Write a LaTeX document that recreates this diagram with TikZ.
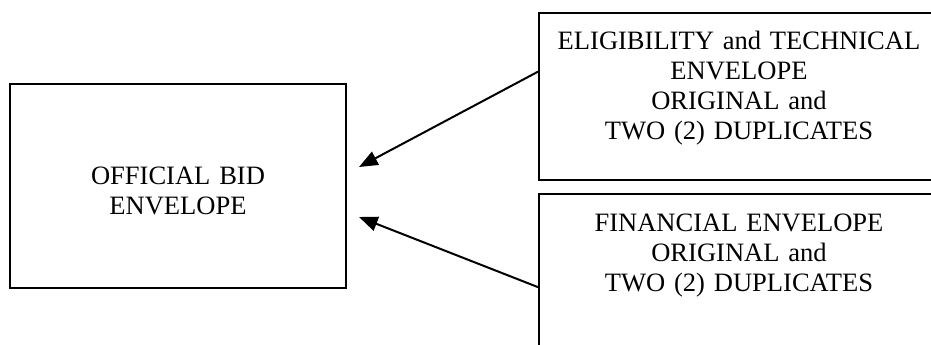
\documentclass[tikz,border=0pt]{standalone}
\usepackage{fontspec}
\setmainfont{Liberation Serif}
\usetikzlibrary{arrows.meta,calc}
\begin{document}
\begin{tikzpicture}[x=0.75pt,y=-0.75pt,
  envbox/.style={draw, line width=1.5pt, anchor=north west, inner xsep=0pt, inner ysep=0pt,
    align=center, font=\fontsize{19.9pt}{22.5pt}\selectfont},
  arr/.style={line width=1.5pt, -{Triangle[length=14pt,width=11pt]}}]
\useasboundingbox (0,0) rectangle (931,344);
\clip (0,0) rectangle (931,344);
\node[envbox, text width=252pt, text height=75pt, text depth=78pt] (bid) at (9,83)
  {OFFICIAL BID\\ENVELOPE};
\node[envbox, text width=300pt, text height=27pt, text depth=98.25pt] (tech) at (538,12)
  {ELIGIBILITY and TECHNICAL\\ENVELOPE\\ORIGINAL and\\TWO (2) DUPLICATES};
\node[envbox, text width=300pt, text height=27.75pt, text depth=97.5pt] (fin) at (538,193)
  {FINANCIAL ENVELOPE\\ORIGINAL and\\TWO (2) DUPLICATES};
\coordinate (t1) at ($(bid.east)+(9pt,14.25pt)$);
\coordinate (t2) at ($(bid.east)+(9pt,-23.25pt)$);
\draw[arr] ($(tech.north west)!0.353!(tech.south west)$) -- (t1);
\draw[arr] ($(fin.north west)!0.557!(fin.south west)$) -- (t2);
\end{tikzpicture}
\end{document}
